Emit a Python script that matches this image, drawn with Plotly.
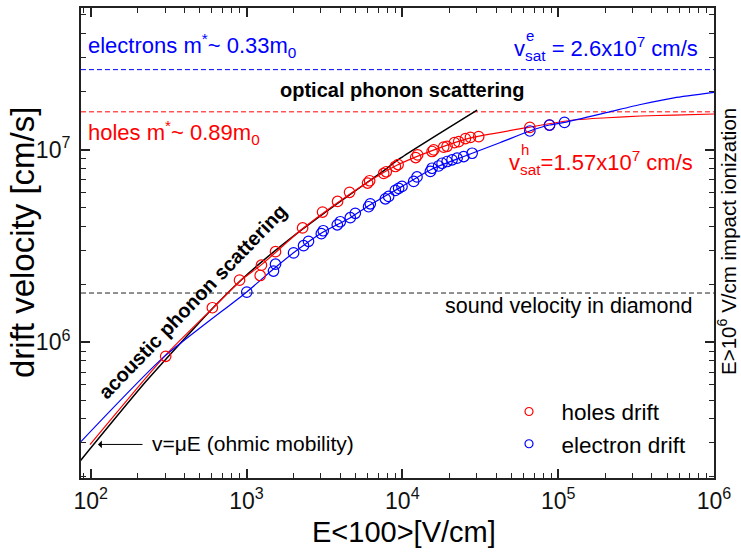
import plotly.graph_objects as go

# ---------------- measured drift velocities in diamond, E || <100> ----------------
holes_E = [303, 604, 902, 1224, 1247, 1535, 2291, 3076, 3840, 4585, 5985, 6170,
           7590, 7890, 9020, 9400, 12180, 12540, 15520, 15890, 18420, 19370,
           21590, 23000, 25400, 27350, 30900, 65800, 88000]
holes_v = [8.45e5, 1.51e6, 2.10e6, 2.22e6, 2.51e6, 2.95e6, 3.92e6, 4.74e6, 5.38e6,
           6.00e6, 6.70e6, 6.89e6, 7.52e6, 7.67e6, 8.17e6, 8.36e6, 9.09e6, 9.39e6,
           9.77e6, 9.96e6, 1.030e7, 1.040e7, 1.087e7, 1.100e7, 1.141e7, 1.157e7,
           1.167e7, 1.304e7, 1.341e7]

electrons_E = [1004, 1490, 1535, 2005, 2323, 2500, 3020, 3108, 3823, 3998, 4634,
               4990, 6072, 6228, 7780, 8170, 9020, 9470, 9950, 11820, 12420, 15130,
               15520, 17100, 17990, 19370, 20850, 22460, 24770, 28050, 65800, 88000,
               109800]
electrons_v = [1.82e6, 2.34e6, 2.54e6, 2.91e6, 3.17e6, 3.34e6, 3.66e6, 3.79e6,
               4.07e6, 4.22e6, 4.43e6, 4.67e6, 5.05e6, 5.23e6, 5.55e6, 5.71e6,
               6.14e6, 6.29e6, 6.44e6, 6.83e6, 7.21e6, 7.70e6, 8.00e6, 8.22e6,
               8.49e6, 8.67e6, 8.85e6, 9.02e6, 9.20e6, 9.57e6, 1.249e7, 1.341e7,
               1.384e7]

# ---------------- model curves ----------------
holes_fit_E = [99, 303, 613, 910, 1255, 2288, 3840, 5958, 9152, 15520, 26660,
               65730, 126000, 206600, 338000, 553400, 1.0e6]
holes_fit_v = [2.94e5, 8.57e5, 1.513e6, 2.08e6, 2.535e6, 3.88e6, 5.30e6, 6.75e6,
               8.27e6, 9.88e6, 1.144e7, 1.307e7, 1.424e7, 1.463e7, 1.494e7,
               1.511e7, 1.530e7]

electrons_fit_E = [86.7, 292.7, 1004, 1490, 2003, 3049, 4634, 6228, 9957, 15520,
                   24770, 42620, 65730, 87960, 109870, 206600, 338000, 553400, 1.0e6]
electrons_fit_v = [3.05e5, 8.34e5, 1.824e6, 2.398e6, 2.911e6, 3.70e6, 4.43e6,
                   5.17e6, 6.44e6, 7.93e6, 9.20e6, 1.089e7, 1.249e7, 1.341e7,
                   1.384e7, 1.559e7, 1.714e7, 1.857e7, 1.983e7]

# ohmic / acoustic-phonon limited line
ohmic_E = [85.4, 229, 613, 910, 1224, 2288, 3840, 7223, 9710, 30190]
ohmic_v = [2.41e5, 6.32e5, 1.513e6, 2.08e6, 2.575e6, 3.86e6, 5.26e6, 7.54e6,
           9.02e6, 1.604e7]

# reference velocities [cm/s]
v_sat_electrons = 2.6e7
v_sat_holes = 1.57e7
v_sound = 1.8e6

E_range = [10 ** 1.938, 1.0e6]

x_ticks = [1e2, 1e3, 1e4, 1e5, 1e6]
x_ticktext = ["10<sup>2</sup>", "10<sup>3</sup>", "10<sup>4</sup>",
              "10<sup>5</sup>", "10<sup>6</sup>"]
y_ticks = [1e6, 1e7]
y_ticktext = ["10<sup>6</sup>", "10<sup>7</sup>"]

RED = "#ff0000"
BLUE = "#0000ff"
FONT = "Liberation Sans, Arial, sans-serif"

# plot-area geometry in pixels
W, H = 741, 554
L, R, T, B = 81, 27, 6, 76
PW, PH = W - L - R, H - T - B


def px(x):
    return (x - L) / PW


def py(y):
    return (H - B - y) / PH


fig = go.Figure()

# horizontal reference levels
for v, col in [(v_sat_electrons, BLUE), (v_sat_holes, RED), (v_sound, "#222222")]:
    fig.add_trace(go.Scatter(x=E_range, y=[v, v], mode="lines",
                             line=dict(color=col, width=1, dash="5px,3px"),
                             showlegend=False, hoverinfo="skip"))

fig.add_trace(go.Scatter(x=ohmic_E, y=ohmic_v, mode="lines",
                         line=dict(color="black", width=1.5, shape="spline", smoothing=0.6),
                         showlegend=False))
fig.add_trace(go.Scatter(x=holes_fit_E, y=holes_fit_v, mode="lines",
                         line=dict(color=RED, width=1.2, shape="spline", smoothing=0.6),
                         showlegend=False))
fig.add_trace(go.Scatter(x=electrons_fit_E, y=electrons_fit_v, mode="lines",
                         line=dict(color=BLUE, width=1.2, shape="spline", smoothing=0.6),
                         showlegend=False))

fig.add_trace(go.Scatter(x=holes_E, y=holes_v, mode="markers",
                         marker=dict(symbol="circle-open", size=10.5, color=RED,
                                     line=dict(width=1.2)),
                         showlegend=False))
fig.add_trace(go.Scatter(x=electrons_E, y=electrons_v, mode="markers",
                         marker=dict(symbol="circle-open", size=10.5, color=BLUE,
                                     line=dict(width=1.2)),
                         showlegend=False))

# legend entries
fig.add_trace(go.Scatter(x=[None], y=[None], mode="markers", name="\u00a0\u00a0holes drift",
                         marker=dict(symbol="circle-open", size=8, color=RED,
                                     line=dict(width=1.2))))
fig.add_trace(go.Scatter(x=[None], y=[None], mode="markers", name="\u00a0\u00a0electron drift",
                         marker=dict(symbol="circle-open", size=8, color=BLUE,
                                     line=dict(width=1.2))))

minor_x = [m * 10 ** k for k in range(1, 6) for m in range(2, 10)]
minor_y = [m * 10 ** k for k in range(5, 8) for m in range(2, 10)]

axis_common = dict(
    type="log", showgrid=False, zeroline=False,
    showline=True, linecolor="#222222", linewidth=2, mirror="ticks",
    ticks="inside", ticklen=9, tickwidth=1.5, tickcolor="#222222",
    tickfont=dict(family=FONT, size=23, color="#111111"),
)

fig.update_xaxes(range=[1.938, 6.0], tickvals=x_ticks, ticktext=x_ticktext,
                 ticklabelstandoff=1,
                 minor=dict(ticks="inside", ticklen=5, tickwidth=1.2,
                            tickcolor="#222222", tickvals=minor_x),
                 **axis_common)
fig.update_yaxes(range=[5.295, 7.735], tickvals=y_ticks, ticktext=y_ticktext,
                 ticklabelstandoff=4,
                 minor=dict(ticks="inside", ticklen=5, tickwidth=1.2,
                            tickcolor="#222222", tickvals=minor_y),
                 **axis_common)

ann = []


def text(x, y, s, size=21, color="black", xanchor="left", yanchor="middle",
         angle=0, bold=False):
    if bold:
        s = "<b>" + s + "</b>"
    ann.append(dict(x=px(x), y=py(y), xref="paper", yref="paper", text=s,
                    showarrow=False, xanchor=xanchor, yanchor=yanchor,
                    textangle=angle, font=dict(family=FONT, size=size, color=color)))


text(86, 44, "electrons m<sup>*</sup>~ 0.33m<sub>0</sub>", size=22, color=BLUE)
text(512, 47, "v<sub>sat</sub> = 2.6x10<sup>7</sup> cm/s", size=22, color=BLUE)
text(524, 34, "e", size=15, color=BLUE)
text(402, 88, "optical phonon scattering", size=20, xanchor="center", bold=True)
text(86, 131, "holes m<sup>*</sup>~ 0.89m<sub>0</sub>", size=22, color=RED)
text(507, 161, "v<sub>sat</sub>=1.57x10<sup>7</sup> cm/s", size=22, color=RED)
text(519, 148, "h", size=15, color=RED)
text(694, 305, "sound velocity in diamond", size=21.5, xanchor="right")
text(150, 443, "v=\u03bcE (ohmic mobility)")
text(192, 301, "acoustic phonon scattering", size=20, xanchor="center",
     angle=-46, bold=True)
text(727, 241, "E>10<sup>6</sup> V/cm impact ionization", size=20.5,
     xanchor="center", angle=-90)

# axis titles
text(404, 532, "E&lt;100&gt;[V/cm]", size=29, xanchor="center")
text(22, 242, "drift velocity [cm/s]", size=33, xanchor="center", angle=-90)

# arrow pointing at the low-field end of the ohmic line
ann.append(dict(x=px(98), y=py(444.3), xref="paper", yref="paper", text="",
                showarrow=True, ax=46, ay=0, arrowhead=1, arrowsize=1.3,
                arrowwidth=1, arrowcolor="black"))

fig.update_layout(
    width=W, height=H,
    margin=dict(l=L, r=R, t=T, b=B, pad=0),
    paper_bgcolor="white", plot_bgcolor="white",
    font=dict(family=FONT, color="black"),
    annotations=ann,
    legend=dict(x=px(509), y=py(390), xanchor="left", yanchor="top",
                bgcolor="rgba(0,0,0,0)", font=dict(family=FONT, size=22.5),
                tracegroupgap=0),
)

fig.write_html("out.html")
